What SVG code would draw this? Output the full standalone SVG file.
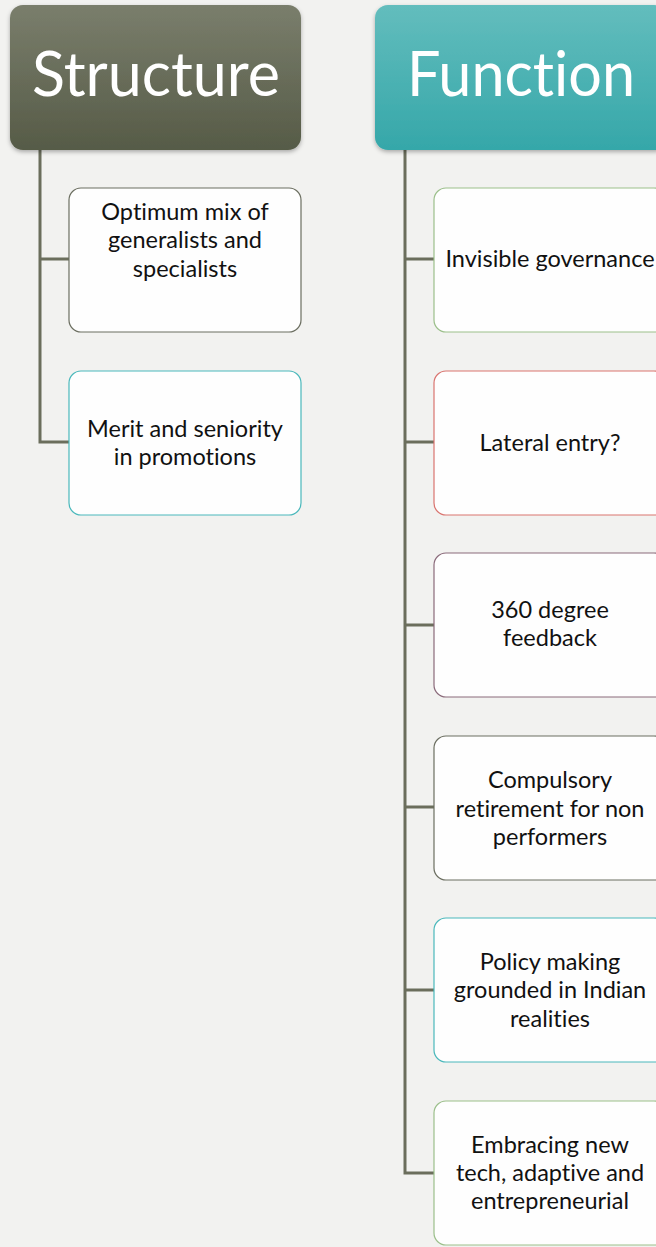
<svg xmlns="http://www.w3.org/2000/svg" width="656" height="1247" viewBox="0 0 656 1247">
<style>
.box{fill:#fefefe;stroke-width:1.2}
.t{font-family:Lato,"Open Sans",sans-serif;font-size:23.5px;fill:#111;text-anchor:middle;font-variant-ligatures:none}
.h{font-family:Lato,"Open Sans",sans-serif;font-size:61px;fill:#fff;text-anchor:middle;font-variant-ligatures:none}
.c{stroke:#6b6e5c;stroke-width:3;fill:none}
</style>
<defs>
<linearGradient id="gS" x1="0" y1="0" x2="0" y2="1"><stop offset="0" stop-color="#7a7e6c"/><stop offset="1" stop-color="#565b47"/></linearGradient>
<linearGradient id="gF" x1="0" y1="0" x2="0" y2="1"><stop offset="0" stop-color="#63bdbd"/><stop offset="1" stop-color="#35a7a9"/></linearGradient>
<filter id="sh" x="-10%" y="-10%" width="120%" height="130%"><feDropShadow dx="0" dy="2" stdDeviation="2" flood-color="#000" flood-opacity="0.3"/></filter>
</defs>
<rect width="656" height="1247" fill="#f2f2f0"/>
<g id="connectors">
<path class="c" d="M40 150V442H69M40 259H69"/>
<path class="c" d="M405 150V1173H434M405 259H434M405 442H434M405 625H434M405 807H434M405 990H434"/>
</g>
<g id="structure"><rect x="10" y="5" width="291" height="145" rx="13" fill="url(#gS)" filter="url(#sh)"/><text class="h" x="156" y="96" textLength="248" lengthAdjust="spacingAndGlyphs">Structure</text></g>
<g id="function"><rect x="375" y="5" width="292" height="145" rx="13" fill="url(#gF)" filter="url(#sh)"/><text class="h" x="521" y="96" textLength="228" lengthAdjust="spacingAndGlyphs">Function</text></g>
<g id="s1"><rect class="box" x="69" y="188" width="232" height="144" rx="12" stroke="#6b6e60"/><text class="t" x="185" y="220">Optimum mix of</text><text class="t" x="185" y="248">generalists and</text><text class="t" x="185" y="277">specialists</text></g>
<g id="s2"><rect class="box" x="69" y="371" width="232" height="144" rx="12" stroke="#4ab8bb"/><text class="t" x="185" y="437">Merit and seniority</text><text class="t" x="185" y="465">in promotions</text></g>
<g id="f1"><rect class="box" x="434" y="188" width="232" height="144" rx="12" stroke="#9bbf8a"/><text class="t" x="550" y="267">Invisible governance</text></g>
<g id="f2"><rect class="box" x="434" y="371" width="232" height="144" rx="12" stroke="#d9746f"/><text class="t" x="550" y="451">Lateral entry?</text></g>
<g id="f3"><rect class="box" x="434" y="553" width="232" height="144" rx="12" stroke="#8a6a7a"/><text class="t" x="550" y="618">360 degree</text><text class="t" x="550" y="646">feedback</text></g>
<g id="f4"><rect class="box" x="434" y="736" width="232" height="144" rx="12" stroke="#6b6e60"/><text class="t" x="550" y="788">Compulsory</text><text class="t" x="550" y="817">retirement for non</text><text class="t" x="550" y="845">performers</text></g>
<g id="f5"><rect class="box" x="434" y="918" width="232" height="144" rx="12" stroke="#4ab8bb"/><text class="t" x="550" y="970">Policy making</text><text class="t" x="550" y="998">grounded in Indian</text><text class="t" x="550" y="1027">realities</text></g>
<g id="f6"><rect class="box" x="434" y="1101" width="232" height="144" rx="12" stroke="#9bbf8a"/><text class="t" x="550" y="1153">Embracing new</text><text class="t" x="550" y="1181">tech, adaptive and</text><text class="t" x="550" y="1209">entrepreneurial</text></g>
</svg>
